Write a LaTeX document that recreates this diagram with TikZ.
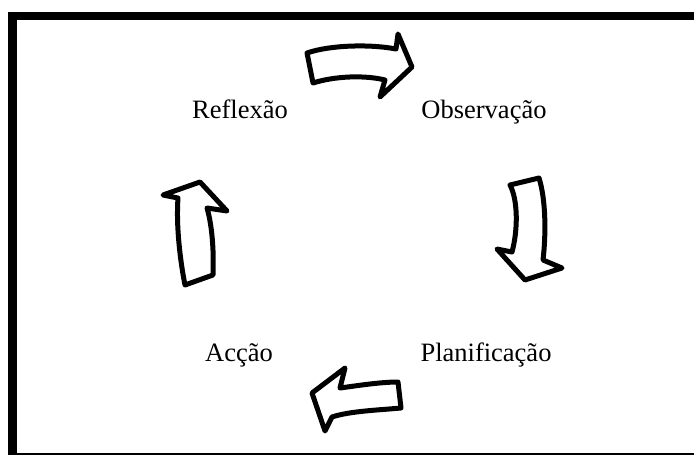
\documentclass[tikz,border=0pt]{standalone}
\usepackage{fontspec}
\setmainfont[Ligatures=CommonOff]{Liberation Serif}
\begin{document}
\begin{tikzpicture}[x=1pt,y=-1pt,
  blockarrow/.style={draw=black,fill=white,line width=5pt,line join=round},
  lbl/.style={anchor=base,inner sep=0pt,font=\fontsize{26.5}{30}\selectfont}]
\useasboundingbox (0,0) rectangle (694,455);
% frame
\fill[black] (8,12) rectangle (694,20);
\fill[black] (8,12) rectangle (17,455);
\fill[black] (8,453) rectangle (694,455);
% labels
\node[lbl] (refl) at (240,118) {Reflexão};
\node[lbl] (obs) at (484,118) {Observação};
\node[lbl] (acc) at (239,361) {Acção};
\node[lbl] (plan) at (486,361) {Planificação};
% arrows
\draw[blockarrow] (307,53) .. controls (330,45) and (370,44) .. (396,49)
  -- (398,34) -- (412,67) -- (380,97) -- (385,80)
  .. controls (365,75) and (335,76) .. (313,83) -- cycle;
\draw[blockarrow] (510,185) -- (539,178)
  .. controls (546,200) and (546,235) .. (543,260)
  -- (562,268) -- (525,280) -- (497,249) -- (512,252)
  .. controls (518,230) and (518,200) .. (510,185) -- cycle;
\draw[blockarrow] (398,382) -- (401,408)
  .. controls (380,410) and (350,411) .. (332,417)
  -- (325,431) -- (312,393) -- (345,368) -- (340,388)
  .. controls (355,386) and (380,382) .. (398,382) -- cycle;
\draw[blockarrow] (185,285) -- (213,275)
  .. controls (214,250) and (212,225) .. (207,208)
  -- (227,211) -- (200,182) -- (163,195) -- (178,198)
  .. controls (176,225) and (180,260) .. (185,285) -- cycle;
\end{tikzpicture}
\end{document}
